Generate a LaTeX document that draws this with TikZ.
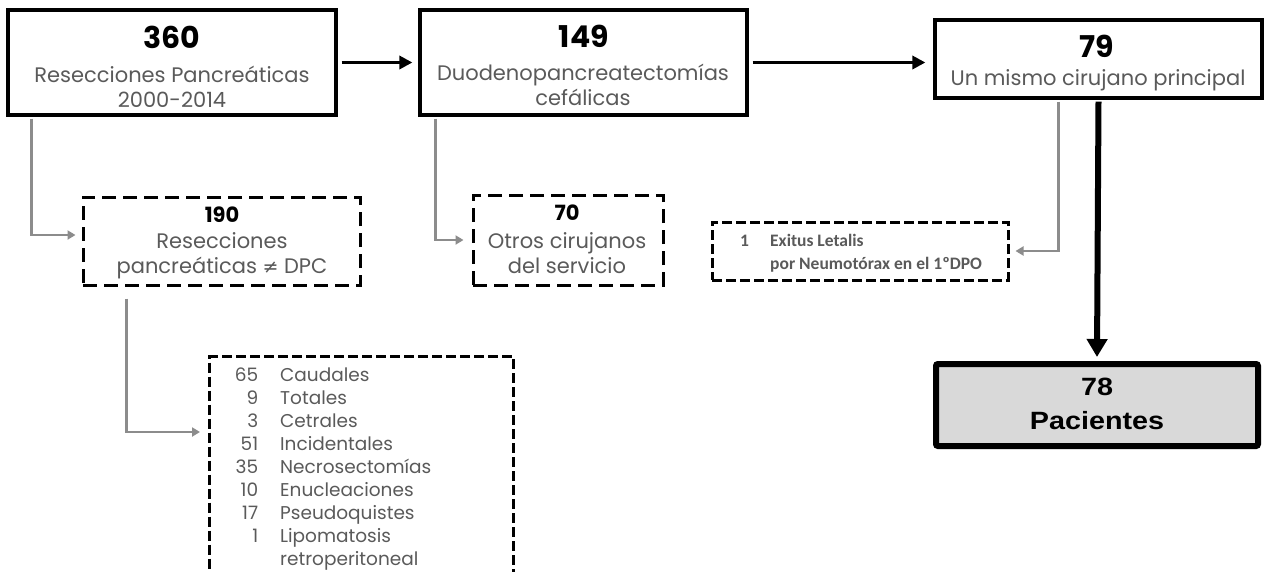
\documentclass[tikz,border=0pt]{standalone}
\usepackage{fontspec}
\setmainfont{Poppins}
\newfontfamily\carl{Carlito}
\newfontfamily\djv{DejaVu Sans}
\newfontfamily\arialb[FakeStretch=1.15]{Liberation Sans}
\usetikzlibrary{arrows.meta,calc}
\definecolor{txtgray}{HTML}{5A5A5A}
\definecolor{linegray}{HTML}{8C8C8C}
\definecolor{fillgray}{HTML}{D9D9D9}
\begin{document}
\begin{tikzpicture}[x=1pt,y=-1pt,
  mainbox/.style={draw=black, line width=3.2pt, inner sep=0pt},
  dashbox/.style={draw=black, line width=3pt, dash pattern=on 14pt off 7pt, inner sep=0pt},
  smalldash/.style={draw=black, line width=3pt, dash pattern=on 10pt off 4pt, inner sep=0pt},
  num/.style={font=\fontsize{30}{34}\selectfont\bfseries, text=black},
  subnum/.style={font=\fontsize{21}{24}\selectfont\bfseries, text=black},
  lbl/.style={font=\fontsize{21}{25}\selectfont, text=txtgray, align=center},
  smalltxt/.style={anchor=base west, inner sep=0pt, font=\carl\bfseries\fontsize{17.5}{22}\selectfont, text=txtgray},
  grayarrow/.style={draw=linegray, line width=2.5pt, -{Triangle[length=8pt,width=9pt]}},
  blackarrow/.style={draw=black, line width=3.5pt, -{Triangle[length=13pt,width=13pt]}},
  bigarrow/.style={draw=black, line width=6pt, -{Triangle[length=18pt,width=20pt]}},
  bigtxt/.style={font=\arialb\bfseries\fontsize{25}{28}\selectfont, text=black}
]
\useasboundingbox (0,0) rectangle (1270,571);
\fill[white] (0,0) rectangle (1270,571);

% main boxes
\node[mainbox, minimum width=328pt, minimum height=105pt] (b1) at (172,62.5) {};
\node[num] (b1n) at (172,37) {360};
\node[lbl] (b1t) at (172,87) {Resecciones Pancreáticas\\2000-2014};

\node[mainbox, minimum width=327pt, minimum height=105pt] (b2) at (583.5,62.5) {};
\node[num] (b2n) at (584,36) {149};
\node[lbl] (b2t) at (583,85) {Duodenopancreatectomías\\cefálicas};

\node[mainbox, minimum width=327pt, minimum height=78pt] (b3) at (1098.5,59) {};
\node[num] (b3n) at (1097,46) {79};
\node[lbl] (b3t) at (1098,80) {Un mismo cirujano principal};

% dashed boxes
\node[dashbox, minimum width=277pt, minimum height=88pt] (b4) at (221.5,241) {};
\node[subnum] (b4n) at (222,215) {190};
\node[lbl] (b4t) at (222,256) {Resecciones\\pancreáticas {\djv\fontsize{19}{20}\selectfont ≠} DPC};

\node[dashbox, minimum width=190pt, minimum height=90pt] (b5) at (568,240) {};
\node[subnum] (b5n) at (567,213) {70};
\node[lbl] (b5t) at (567,253) {Otros cirujanos\\del servicio};

\node[smalldash, minimum width=296pt, minimum height=58pt] (b6) at (860,251) {};
\node[smalltxt] (b6a) at (740,246) {1};
\node[smalltxt] (b6b) at (770,246) {Exitus Letalis};
\node[smalltxt] (b6c) at (770,269) {por Neumotórax en el 1ºDPO};

% list box
\node[smalldash, minimum width=304pt, minimum height=240pt, anchor=north west] (b7) at (208,355) {};
\node[anchor=north west, inner sep=0pt, font=\fontsize{18.5}{23}\selectfont, text=txtgray] (b7t) at (232,365) {%
\begin{tabular}{@{}r@{\hspace{22pt}}l@{}}
\makebox[26pt][r]{65} & Caudales\\
9 & Totales\\
3 & Cetrales\\
51 & Incidentales\\
35 & Necrosectomías\\
10 & Enucleaciones\\
17 & Pseudoquistes\\
1 & Lipomatosis\\
 & retroperitoneal
\end{tabular}};

% result box
\node[draw=black, line width=6pt, fill=fillgray, rounded corners=2pt, minimum width=322pt, minimum height=82pt, inner sep=0pt] (b8) at (1097,405) {};
\node[bigtxt] (b8n) at (1097,387) {78};
\node[bigtxt] (b8t) at (1097,421) {Pacientes};

% connectors
\draw[blackarrow] ($(b1.east)+(4,0)$) -- ($(b2.west)+(-6,0)$);
\draw[blackarrow] ($(b2.east)+(4,0)$) -- ($(b2.east -| b3.west)+(-8,0)$);
\draw[grayarrow] ($(b1.south west)+(25,2)$) |- ($(b4.west)+(-6,-6)$);
\draw[grayarrow] ($(b2.south west)+(17,2)$) |- ($(b5.west)+(-8,0)$);
\draw[grayarrow] ($(b3.south west)+(125,2)$) |- ($(b6.east)+(6,0)$);
\draw[grayarrow] ($(b4.south west)+(45,12)$) |- ($(b7.north west)+(-8,77)$);
\draw[bigarrow] ($(b3.south)+(0,2)$) -- ($(b8.north)+(0,-4)$);
\end{tikzpicture}
\end{document}
